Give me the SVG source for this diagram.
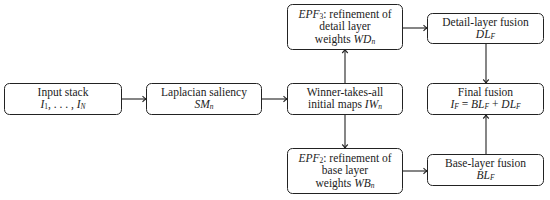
<svg xmlns="http://www.w3.org/2000/svg" width="550" height="200" viewBox="0 0 550 200">
<defs>
<style>
.box{fill:#fff;stroke:#222;stroke-width:1}
.t{font-family:"Liberation Serif","DejaVu Serif",serif;font-size:11.5px;fill:#222;text-anchor:middle}
.m{font-style:italic}
.s{font-size:7.5px}
.c{fill:none;stroke:#222;stroke-width:1.1;marker-end:url(#ah)}
</style>
<marker id="ah" markerWidth="8" markerHeight="8" refX="5" refY="4" orient="auto" markerUnits="userSpaceOnUse">
<path d="M1.5,1.2 Q3.5,3.3 5.2,4 Q3.5,4.7 1.5,6.8" fill="none" stroke="#222" stroke-width="1.1"/>
</marker>
</defs>
<rect width="550" height="200" fill="#fff"/>
<g id="connectors">
<line class="c" x1="122" y1="99" x2="146" y2="99"/>
<line class="c" x1="262" y1="99" x2="287" y2="99"/>
<line class="c" x1="345" y1="83" x2="345" y2="49.5"/>
<line class="c" x1="345" y1="115" x2="345" y2="148"/>
<line class="c" x1="403" y1="28" x2="427" y2="28"/>
<line class="c" x1="403" y1="171" x2="427" y2="171"/>
<line class="c" x1="486" y1="43" x2="486" y2="83"/>
<line class="c" x1="486" y1="154" x2="486" y2="115"/>
</g>
<g id="input">
<rect class="box" x="4.5" y="83.5" width="117" height="31" rx="5"/>
<text class="t" x="63" y="95.5">Input stack</text>
<text class="t" x="63" y="108"><tspan class="m">I</tspan><tspan class="s" dy="1.2">1</tspan><tspan dy="-1.2">, . . . , </tspan><tspan class="m">I</tspan><tspan class="s m" dy="1.2">N</tspan></text>
</g>
<g id="laplacian">
<rect class="box" x="146.5" y="83.5" width="115" height="31" rx="5"/>
<text class="t" x="204" y="95.5">Laplacian saliency</text>
<text class="t" x="204" y="108"><tspan class="m">SM</tspan><tspan class="s m" dy="1.2">n</tspan></text>
</g>
<g id="winner">
<rect class="box" x="287.5" y="83.5" width="115" height="31" rx="5"/>
<text class="t" x="345" y="95.5">Winner-takes-all</text>
<text class="t" x="345" y="108">initial maps <tspan class="m">IW</tspan><tspan class="s m" dy="1.2">n</tspan></text>
</g>
<g id="epf3">
<rect class="box" x="287.5" y="4.5" width="115" height="45" rx="5"/>
<text class="t" x="345" y="17.5"><tspan class="m">EPF</tspan><tspan class="s" dy="1.2">3</tspan><tspan dy="-1.2">: refinement of</tspan></text>
<text class="t" x="345" y="30.3">detail layer</text>
<text class="t" x="345" y="43">weights <tspan class="m">WD</tspan><tspan class="s m" dy="1.2">n</tspan></text>
</g>
<g id="epf2">
<rect class="box" x="287.5" y="148.5" width="115" height="45" rx="5"/>
<text class="t" x="345" y="161.5"><tspan class="m">EPF</tspan><tspan class="s" dy="1.2">2</tspan><tspan dy="-1.2">: refinement of</tspan></text>
<text class="t" x="345" y="174.3">base layer</text>
<text class="t" x="345" y="187">weights <tspan class="m">WB</tspan><tspan class="s m" dy="1.2">n</tspan></text>
</g>
<g id="detail">
<rect class="box" x="427.5" y="13.5" width="116" height="30" rx="5"/>
<text class="t" x="485.5" y="25.5">Detail-layer fusion</text>
<text class="t" x="485.5" y="38"><tspan class="m">DL</tspan><tspan class="s m" dy="1.2">F</tspan></text>
</g>
<g id="final">
<rect class="box" x="427.5" y="83.5" width="116" height="31" rx="5"/>
<text class="t" x="485.5" y="95.5">Final fusion</text>
<text class="t" x="485.5" y="108"><tspan class="m">I</tspan><tspan class="s m" dy="1.2">F</tspan><tspan dy="-1.2"> = </tspan><tspan class="m">BL</tspan><tspan class="s m" dy="1.2">F</tspan><tspan dy="-1.2"> + </tspan><tspan class="m">DL</tspan><tspan class="s m" dy="1.2">F</tspan></text>
</g>
<g id="base">
<rect class="box" x="427.5" y="154.5" width="116" height="31" rx="5"/>
<text class="t" x="485.5" y="166.5">Base-layer fusion</text>
<text class="t" x="485.5" y="179"><tspan class="m">BL</tspan><tspan class="s m" dy="1.2">F</tspan></text>
</g>
</svg>
